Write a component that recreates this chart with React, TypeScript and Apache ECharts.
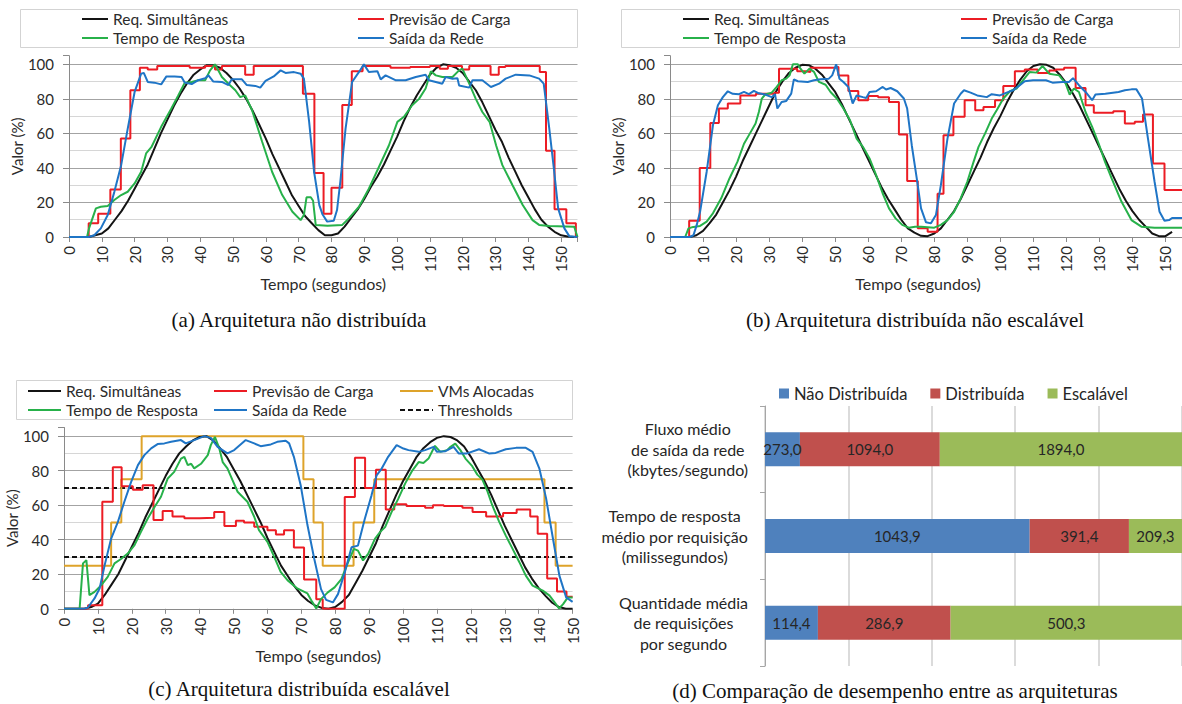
import React, { useEffect, useRef } from 'react';
import * as echarts from 'echarts';

const FONT = 'Lato, "Noto Sans", "DejaVu Sans", sans-serif';
const SERIF = '"Liberation Serif", "DejaVu Serif", serif';
const TXT = '#2b2b2b';

const C_BLACK = '#141414';
const C_RED = '#EC1C24';
const C_GREEN = '#27B14A';
const C_BLUE = '#1F75C6';
const C_GOLD = '#DEA32A';

// ---------- time base (seconds) ----------
const tSec = [0,2,4,6,8,10,12,14,16,18,20,22,24,26,28,30,32,34,36,38,40,42,44,46,48,50,52,54,56,58,60,62,64,66,68,70,72,74,76,78,80,82,84,86,88,90,92,94,96,98,100,102,104,106,108,110,112,114,116,118,120,122,124,126,128,130,132,134,136,138,140,142,144,146,148,150,152,154];

// ---------- (a) Arquitetura não distribuída ----------
const reqA = [0,0,0,0,1,2,5,10,15,21,28,35,42,51,60,68,76,83,89,94,97,99.5,99.5,98,95,91,86,80,73,65,57,48,40,32,24,18,12,8,4,1,1,2,6,11,16,22,29,35,42,50,58,67,75,82,88,94,98,100,99.5,98,95,90,85,78,70,62,55,46,38,30,23,16,10,6,3,1,0.3,0];
const prevA = [[0,0],[6,8],[8.9,13.5],[12.6,27.5],[15.8,57],[18.7,85],[21.6,98],[24,97],[26.9,99],[36.8,98],[41.5,99],[44.5,97],[46.6,99],[53.7,94],[56.3,99],[71.3,83],[74.8,37],[77.6,13.5],[80,28.5],[83.3,76.5],[86.2,96],[89.5,99],[98,98],[104,98.5],[110,99],[113,97.5],[115.5,99],[119.8,97],[122,99],[128.5,94],[131,98.5],[133,99],[143.5,95.5],[145.4,50],[148,16],[151.6,8],[154.5,0],[155,0]];
const respA = [[0,0],[5.5,0],[6.1,5],[8.2,16.6],[9.7,17.5],[11.8,18],[13.8,21.4],[15.9,24.3],[17.9,26.2],[20,31],[22,37.8],[23.5,48.4],[25.1,52],[28.1,63.8],[31.2,74.4],[33.3,82],[35.3,89.4],[37.4,89.8],[39.4,90.8],[41.5,90.8],[43,96.5],[44.5,100],[46.6,92.7],[48.6,88.8],[50.7,85],[52.2,81],[53.7,82],[55.8,73.4],[58.9,55],[61.9,37.8],[65,24.3],[68.1,14.6],[70.6,9.8],[71.6,12.7],[72.4,23],[73.7,23],[74.4,21],[75.2,7],[78.8,6.5],[83.3,7],[85.3,10.8],[88.4,17.5],[91.4,28],[94.5,40.7],[97.5,53],[100.1,66.7],[102.1,69.6],[104.6,76.3],[106.7,80],[108.7,86],[110.3,96],[111.8,93.6],[113.8,92.7],[116.9,92.7],[118.9,96.5],[119.9,97.5],[122,88.8],[124,80],[126,72.4],[128.2,66.7],[130.2,53],[132.1,41.6],[135.2,30],[138.3,18.5],[141.3,9.8],[143.3,7],[146.4,6.4],[154,6],[155,0]];
const redeA = [[0,0],[6,0],[7.7,1],[9.7,5],[11.8,12.7],[13.8,26],[15.9,41.6],[17.9,62.8],[20,84],[22,94.6],[22.8,95],[24,89.8],[26,89.4],[28.1,88.4],[29.7,93],[32.2,92.9],[34.3,92.7],[35.3,89.4],[37.4,88.6],[39.4,90.8],[41.5,92],[42.5,93.6],[44,90],[46.6,89.8],[48.6,88],[49.6,91.3],[52.7,91.3],[54.2,88],[56.8,87.5],[58.3,86.5],[59.9,90.4],[62.4,93],[64.5,96.5],[66,95],[68.6,95.5],[70.6,94.6],[71.6,91.7],[73.2,66.7],[74.7,37.8],[76.3,18.5],[77.3,13],[78.7,8.9],[80.7,9.4],[81.7,15.6],[82.7,32],[84.3,62.8],[86.3,89.8],[88.4,95.6],[89.9,100],[91.4,95.6],[94,96],[95,91.3],[96.5,93.6],[99.5,90.8],[102.6,90.8],[105.7,92.7],[108.7,94],[109.7,90.8],[111.8,89.8],[113.8,88.8],[114.8,92.7],[116.9,91.7],[118.4,92],[118.9,87.8],[122,86.5],[123,90.8],[126,90.8],[128.6,86.9],[131.1,88.8],[133.1,91.7],[136.2,94],[140.3,93.6],[143.3,91.7],[144.7,88.8],[146.4,62.8],[147.9,37.8],[149.1,16.6],[151,5],[152.5,0.5],[155,0]];

// ---------- (b) Arquitetura distribuída não escalável ----------
const reqB = [0,0,0,0,1,3.5,8,13,20,27,35,44,52,60,68,76,84,90,95,98,99.7,99.5,97.5,94,89,84,77,69,61,53,45,37,29,22,16,10,5,2.5,0.7,0.5,2,5,10,15,22,30,38,46,55,63,70,78,85,91,96,99,100,99.7,98,94,89,83,76,68,60,52,44,36,28,21,15,10,6,2,0.5,0.5,3];
const prevB = [[0,0],[5.8,9.4],[9,40],[12.2,66],[14.8,74.4],[17.5,77.3],[21.3,82],[26,83],[31.5,83.6],[33,97.5],[38.5,96],[41,95.6],[42.5,98],[50.2,98.5],[51,93.6],[54,84.6],[57,79.2],[60,81.7],[63,81],[66.3,78.2],[69.3,59.3],[71.8,32.4],[75,5],[78,3],[81,25],[82.8,59],[85.8,69.6],[89.2,79.2],[92.4,73.4],[94.9,75.3],[98.4,79.2],[100.9,87.5],[104.4,96],[107.4,97],[111.3,95],[114.8,96.5],[116.8,97],[119.3,98],[122.8,86.3],[125.8,76.3],[128.3,72],[134.2,72.8],[137.7,65.7],[140.7,66.7],[143.2,70.9],[146.2,42.6],[149.7,27.2],[155,27.2]];
const respB = [[0,0],[4.6,0],[5.6,5],[6.6,5.6],[9.1,6.4],[11.1,8.9],[13,13.7],[15.5,22.4],[18,33.9],[20.4,43.5],[22.4,54],[23.9,59],[25.9,65.7],[26.9,72.4],[27.8,80.2],[28.8,82.5],[30.8,83.6],[32.3,86.9],[33.8,90.8],[35.2,91.7],[36.2,93.6],[37.2,100],[38.7,100],[39.5,97.5],[40.7,94.6],[42.2,97.5],[43.6,95.6],[45.1,89.8],[47.1,88.2],[48.6,84],[50.5,80.2],[52.5,74.4],[54.5,67.6],[56.5,57],[58.4,52.2],[60.4,45.5],[62.4,35.8],[64.4,25.2],[66.3,16.6],[68.3,10.8],[70.3,7],[72.3,5.4],[74.2,6],[76,6],[80,5.4],[82,7],[84,9.8],[86,14.6],[88,22.4],[90,32],[91.9,43.5],[93.4,52.2],[95.4,60],[97.4,68.6],[98.9,73.4],[100.9,80.2],[102.9,84.4],[104.9,86],[106.9,90.8],[108.9,95.6],[110.9,95.2],[112.8,99],[114.8,94.6],[117.8,93.6],[119.8,88.8],[121,82.5],[122.3,86],[123.8,84],[125.8,72.4],[127.8,63.8],[129.8,54],[131.7,43.5],[133.7,33.9],[136.7,20.4],[139.7,9.8],[142.7,6],[146.7,5.4],[155,5.4]];
const redeB = [[0,0],[6,0],[7.1,1],[8.1,7],[9.1,14.6],[11.1,37.8],[13,64.7],[14.5,76.3],[16,81],[17.5,84.4],[19,82.9],[20.9,82.7],[22.4,84],[23.9,82.7],[25.4,84.6],[26.9,83.2],[28.8,82.5],[30.8,81],[31.8,82.7],[32.5,74.4],[33.8,78.2],[35.2,78.8],[36.7,83],[37.5,91.3],[38.7,90.2],[41.7,89.8],[43.6,90.8],[45.6,91.3],[48.1,91.7],[49.1,93.6],[50.3,100],[51.3,91.7],[52.5,89.8],[54,86.9],[55.3,77.3],[56.5,82],[58.4,81],[59.4,80.5],[60.4,84],[62.4,84.4],[64.4,86.9],[65.4,85.4],[66.8,86.3],[68.8,84.4],[70.8,80.2],[71.8,74.4],[73.2,53],[74.7,33.9],[76,16.6],[77.5,8.5],[79,7.9],[80.5,12.7],[82,30],[84,57],[86,77.3],[88,83],[89,85],[91,83.6],[93,82],[95.9,81],[97.4,82.7],[99.9,82],[101.9,83.6],[103.9,85],[105.9,87.9],[107.4,90.2],[109.9,90.8],[113.8,90.8],[115.8,89.4],[118.8,89.8],[120.8,89.8],[122,92],[123.8,87.9],[125.8,84],[127.8,79.2],[128.8,82.5],[131.8,83],[135.8,84],[137.7,85],[139.7,85.5],[141.2,85.5],[142.9,80.2],[144.7,57],[146.7,32],[148.2,14.6],[149.7,9.4],[151.1,9.8],[152,11],[155,11]];

// ---------- (c) Arquitetura distribuída escalável ----------
const reqC = [0,0,0,0,1,3,8,14,20,28,36,44,53,61,69,77,84,90,94,97.5,99.5,100,97.5,93,88,81,74,66,58,50,41,33,25,19,13,8,4.5,2,0.5,0,1,4,8,15,22,30,38,48,57,66,74,81,88,93,96.5,99,100,99.5,97.5,94,88,81,74,66,57,48,40,32,24,17.5,12,7.5,3.5,1,0,0];
const prevC = [[0,0],[7.1,2],[11.3,62],[14.4,82],[17,71],[20.3,69],[23.2,71.5],[26.4,51.5],[29.1,56.6],[32,53.5],[35.5,52.5],[40,52.7],[44.3,56],[47.3,48],[50.7,51],[53.1,50],[56.1,47.5],[60,45.5],[62.5,43],[64.9,45.5],[67.8,35.5],[70.8,17],[74.4,5.6],[76.3,0],[82.8,64.7],[85.8,87.5],[88.8,70],[92,80.5],[94.9,57.5],[97.4,60.5],[101,59.5],[106.5,58.5],[108.8,60],[112,59.5],[117.5,58.5],[120.5,56],[124.5,53.5],[129.5,55.5],[133.5,57.5],[137.5,53.5],[139.7,43.5],[142.5,17.5],[145.4,10],[148.2,7],[150,7]];
const vmsC = [[0,25],[13.9,50],[16.9,75],[22.9,100],[70.6,75],[73.6,50],[76.3,25],[85.4,50],[91.5,75],[141.7,50],[145,25],[150,25]];
const respC = [[0,0],[4.6,0],[5.6,26.3],[6.6,28.2],[7.5,7.9],[9,9.8],[11,13.7],[12.9,18.5],[14.9,26.3],[16.9,29],[18.8,32],[20.8,36.9],[22.7,44.6],[24.7,52.3],[26.7,59],[28.6,64.9],[30.6,75.5],[32.5,79.3],[34.5,87],[35.5,88],[36.5,83.2],[37.5,84],[38.4,81.3],[40.4,84],[42.4,89],[43.3,94.8],[44.5,99.6],[45.8,92.9],[46.8,85],[48.2,81.3],[49.7,74.5],[51.2,67.8],[52.2,65.8],[54.1,62],[56.1,53.3],[57.5,45.6],[60,38.8],[62,30.1],[63.9,21.4],[65.9,16.6],[68.8,11.8],[71.8,8.9],[73.2,4],[74.4,0.2],[75.8,5.6],[77.8,9.5],[79.8,12.4],[81.8,17.2],[83.8,27],[85.5,34.7],[86.7,33.7],[88.2,28],[89.7,31.8],[91.7,40.5],[93.2,44.4],[94.7,47.3],[96.6,56],[98.6,63.8],[100.6,72.5],[102.6,79.7],[104.6,85],[106,84.5],[107.5,87],[109.4,94.4],[111,90.9],[113,91.9],[114,93.8],[115.4,95.7],[116.9,91.9],[118.4,87],[120.4,82.6],[121.9,77.7],[123.4,74.8],[124.9,68],[126.3,60],[128.3,50.6],[130.3,42.4],[132.3,34.7],[134.3,27],[136.2,19.2],[138.2,13.4],[141.2,10.5],[143.2,7.6],[144.7,3.7],[146,0.2],[147.2,2.7],[148.6,6.6],[150,6.6]];
const redeC = [[0,0],[6,0],[7,0.6],[9,6],[10.5,11.8],[12,25.3],[13.9,40.7],[15.9,50.4],[17.8,62],[19.8,73.5],[21.8,83.2],[23.7,89],[25.7,92.9],[27.6,95.4],[29.6,95.8],[31.6,96.7],[34.5,97.7],[35.9,95.8],[38.4,97.7],[41.4,100],[43.3,99],[45.3,93.8],[48.2,90],[50.2,91.9],[53.6,97.7],[56.1,95.8],[58,94.2],[61,95.2],[62.9,96.7],[65.4,97.3],[66.4,95.8],[67.8,88],[69.8,71.6],[71.8,48.5],[73.8,29],[75.8,11.4],[77.3,5.2],[79.3,3.7],[80.8,8.5],[82.8,21],[84.8,35.7],[86.7,36.6],[88.7,52],[90.7,65.7],[92.2,77.3],[93.7,81.2],[95.6,88],[98.1,94.8],[100.1,92.8],[101.6,91.9],[104.6,90.9],[106.5,91.9],[109,93.8],[110,90.9],[112.5,91.3],[114.9,93.8],[116.4,90],[118.9,90],[122.4,92.4],[125.3,90],[127.3,90.3],[130.3,92.4],[133.3,93.2],[136.2,93.2],[138.2,90.9],[140.2,81.2],[142.2,63.8],[144.2,40.7],[146.1,19.2],[148.1,6.6],[150,4]];
const thresholdHigh = [[0,70],[150,70]];
const thresholdLow = [[0,30],[150,30]];

// ---------- (d) Comparação de desempenho ----------
const categoriesD = [
  'Fluxo médio\nde saída da rede\n(kbytes/segundo)',
  'Tempo de resposta\nmédio por requisição\n(milissegundos)',
  'Quantidade média\nde requisições\npor segundo',
];
const naoDistribuida = [273.0, 1043.9, 114.4];
const distribuida = [1094.0, 391.4, 286.9];
const escalavel = [1894.0, 209.3, 500.3];

const zip = (t: number[], v: number[]) => v.map((y, i) => [t[i], y]);
const fmtComma = (v: number) => v.toFixed(1).replace('.', ',');
const T = 'rgba(0,0,0,0)';

function buildOption(): any {
  const totals = naoDistribuida.map((v, i) => v + distribuida[i] + escalavel[i]);
  const pct = (arr: number[]) => arr.map((v, i) => (v / totals[i]) * 100);

  const xLine = (gridIndex: number, max: number, namePad: number[]) => ({
    type: 'value', gridIndex, min: 0, max, interval: 10,
    axisLine: { show: true, onZero: false, lineStyle: { color: '#8a8a8a', width: 1 } },
    axisTick: { show: true, length: 5, lineStyle: { color: '#8a8a8a' } },
    axisLabel: {
      rotate: 90, fontSize: 15, fontFamily: FONT, color: TXT, margin: 9,
      formatter: (v: number) => (v % 10 === 0 ? String(v) : ''),
    },
    splitLine: { show: false },
    name: 'Tempo (segundos)', nameLocation: 'middle', nameGap: 37,
    nameTextStyle: { fontSize: 16, fontFamily: FONT, color: TXT, padding: namePad },
  });
  const yMajor = (gridIndex: number) => ({
    type: 'value', gridIndex, min: 0, max: 105, interval: 20, position: 'left',
    axisLine: { show: true, lineStyle: { color: '#8a8a8a', width: 1 } },
    axisTick: { show: true, length: 6, lineStyle: { color: '#8a8a8a' } },
    axisLabel: {
      fontSize: 15, fontFamily: FONT, color: TXT, margin: 15,
      formatter: (v: number) => (v % 20 === 0 ? String(v) : ''),
    },
    splitLine: {
      show: true, showMaxLine: false,
      lineStyle: { color: ['#a3a3a3', '#a3a3a3', '#a3a3a3', '#a3a3a3', '#a3a3a3', '#a3a3a3', T], width: 1 },
    },
    name: 'Valor (%)', nameLocation: 'middle', nameGap: 40,
    nameTextStyle: { fontSize: 15, fontFamily: FONT, color: TXT },
  });
  const yMinor = (gridIndex: number) => ({
    type: 'value', gridIndex, min: 0, max: 105, interval: 10, position: 'left',
    axisLine: { show: false }, axisTick: { show: false }, axisLabel: { show: false },
    splitLine: {
      show: true, showMaxLine: false,
      lineStyle: { color: [T, '#d6d6d6', T, '#d6d6d6', T, '#d6d6d6', T, '#d6d6d6', T, '#d6d6d6', T, T], width: 1 },
    },
  });

  const line = (name: string, data: any[], xi: number, yi: number, color: string, extra: any = {}) => ({
    type: 'line', name, data, xAxisIndex: xi, yAxisIndex: yi,
    symbol: 'none', showSymbol: false, animation: false,
    lineStyle: { color, width: 2, ...(extra.lineStyle || {}) },
    itemStyle: { color },
    step: extra.step,
    z: extra.z ?? 2,
  });

  const lg = (name: string, left: number, cy: number, w: number) => ({
    data: [name], left, top: cy - 8, orient: 'horizontal', padding: 0,
    itemWidth: w, itemHeight: 14, selectedMode: false,
    itemStyle: { opacity: 0 },
    textStyle: { fontFamily: FONT, fontSize: 15.5, color: TXT },
  });

  const barLabel = (raw: number[]) => ({
    show: true, position: 'inside', fontFamily: FONT, fontSize: 15, color: '#262626',
    formatter: (p: any) => fmtComma(raw[p.dataIndex]),
  });

  const caption = (text: string, x: number, y: number) => ({
    type: 'text', x, y, silent: true,
    style: {
      text, font: `21px ${SERIF}`, fill: '#111',
      textAlign: 'center', textVerticalAlign: 'middle', align: 'center', verticalAlign: 'middle',
    },
  });
  const box = (x: number, y: number, w: number, h: number) => ({
    type: 'rect', silent: true, z: -1,
    shape: { x: x + 0.5, y: y + 0.5, width: w, height: h },
    style: { fill: '#fff', stroke: '#d3d3d3', lineWidth: 1 },
  });

  return {
    animation: false,
    backgroundColor: '#ffffff',
    textStyle: { fontFamily: FONT },
    grid: [
      { left: 69, top: 55.7, width: 508.5, height: 181.3 },
      { left: 670, top: 55.7, width: 520, height: 181.3 },
      { left: 64, top: 427.5, width: 508.6, height: 181.3 },
      { left: 765, top: 406, width: 420, height: 260 },
    ],
    xAxis: [
      xLine(0, 155, [0, 0, 0, 0]),
      xLine(1, 155, [0, 16, 0, 0]),
      xLine(2, 150, [0, 0, 0, 0]),
      {
        type: 'value', gridIndex: 3, min: 0, max: 100, interval: 20,
        axisLabel: { show: false }, axisLine: { show: false }, axisTick: { show: false },
        splitLine: { show: true, lineStyle: { color: '#cfcfcf', width: 1.5 } },
      },
    ],
    yAxis: [
      yMajor(0), yMinor(0),
      yMajor(1), yMinor(1),
      yMajor(2), yMinor(2),
      {
        type: 'category', gridIndex: 3, data: categoriesD, inverse: true,
        axisLine: { show: true, lineStyle: { color: '#a6a6a6', width: 1 } },
        axisTick: { show: true, length: 5, lineStyle: { color: '#a6a6a6' } },
        axisLabel: {
          fontSize: 16, lineHeight: 20.5, fontFamily: FONT, color: '#262626', align: 'right', margin: 17,
          formatter: (v: string) => v.split('\n').map((l) => `{c|${l}}`).join('\n'),
          rich: { c: { fontSize: 16, lineHeight: 20.5, fontFamily: FONT, color: '#262626', align: 'center' } },
        },
        splitLine: { show: false },
      },
    ],
    legend: [
      lg('Req. Simultâneas', 81, 19, 26),
      lg('Previsão de Carga', 357, 19, 26),
      lg('Tempo de Resposta', 81, 38, 26),
      lg('Saída da Rede', 357, 38, 26),

      lg('Req. Simultâneas', 682, 19, 26),
      lg('Previsão de Carga', 960, 19, 26),
      lg('Tempo de Resposta', 682, 38, 26),
      lg('Saída da Rede', 960, 38, 26),

      lg('Req. Simultâneas', 27, 391, 33),
      lg('Previsão de Carga', 213, 391, 33),
      lg('VMs Alocadas', 399, 391, 33),
      lg('Tempo de Resposta', 27, 410, 33),
      lg('Saída da Rede', 213, 410, 33),
      lg('Thresholds', 399, 410, 33),

      {
        data: ['Não Distribuída', 'Distribuída', 'Escalável'],
        left: 779, top: 385, padding: 0, itemWidth: 10, itemHeight: 10, itemGap: 23,
        icon: 'rect', selectedMode: false,
        textStyle: { fontFamily: FONT, fontSize: 16.5, color: '#262626' },
      },
    ],
    graphic: [
      box(20, 9, 557, 38),
      box(621, 9, 558, 38),
      box(16, 380, 556, 39),
      caption('(a) Arquitetura não distribuída', 299, 320),
      caption('(b) Arquitetura distribuída não escalável', 915, 320),
      caption('(c) Arquitetura distribuída escalável', 299, 689),
      caption('(d) Comparação de desempenho entre as arquiteturas', 895, 691),
    ],
    series: [
      // (a)
      line('Req. Simultâneas', zip(tSec, reqA), 0, 0, C_BLACK),
      line('Previsão de Carga', prevA, 0, 0, C_RED, { step: 'end' }),
      line('Tempo de Resposta', respA, 0, 0, C_GREEN),
      line('Saída da Rede', redeA, 0, 0, C_BLUE),
      // (b)
      line('Req. Simultâneas', zip(tSec, reqB), 1, 2, C_BLACK),
      line('Previsão de Carga', prevB, 1, 2, C_RED, { step: 'end' }),
      line('Tempo de Resposta', respB, 1, 2, C_GREEN),
      line('Saída da Rede', redeB, 1, 2, C_BLUE),
      // (c)
      line('Thresholds', thresholdHigh, 2, 4, '#111', { lineStyle: { type: [5, 3], width: 2 } }),
      line('Thresholds', thresholdLow, 2, 4, '#111', { lineStyle: { type: [5, 3], width: 2 } }),
      line('VMs Alocadas', vmsC, 2, 4, C_GOLD, { step: 'end' }),
      line('Req. Simultâneas', zip(tSec, reqC), 2, 4, C_BLACK),
      line('Previsão de Carga', prevC, 2, 4, C_RED, { step: 'end' }),
      line('Tempo de Resposta', respC, 2, 4, C_GREEN),
      line('Saída da Rede', redeC, 2, 4, C_BLUE),
      // (d)
      {
        type: 'bar', name: 'Não Distribuída', stack: 'd', xAxisIndex: 3, yAxisIndex: 6,
        data: pct(naoDistribuida), barWidth: 34, itemStyle: { color: '#4F81BD' }, label: barLabel(naoDistribuida),
      },
      {
        type: 'bar', name: 'Distribuída', stack: 'd', xAxisIndex: 3, yAxisIndex: 6,
        data: pct(distribuida), barWidth: 34, itemStyle: { color: '#C0504D' }, label: barLabel(distribuida),
      },
      {
        type: 'bar', name: 'Escalável', stack: 'd', xAxisIndex: 3, yAxisIndex: 6,
        data: pct(escalavel), barWidth: 34, itemStyle: { color: '#9BBB59' }, label: barLabel(escalavel),
      },
    ],
  };
}

export default function App() {
  const ref = useRef<HTMLDivElement>(null);
  useEffect(() => {
    if (!ref.current) return;
    const chart = echarts.init(ref.current, undefined, { renderer: 'svg' });
    chart.setOption(buildOption());
    return () => chart.dispose();
  }, []);
  return (
    <div
      ref={ref}
      style={{ position: 'absolute', left: 0, top: 0, width: 1182, height: 704, background: '#fff' }}
    />
  );
}
